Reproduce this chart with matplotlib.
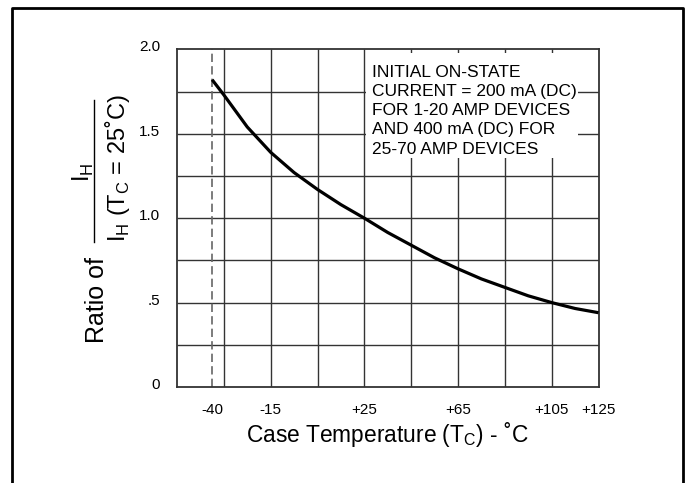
import matplotlib
matplotlib.use('Agg')
import matplotlib.pyplot as plt
from matplotlib.patches import Rectangle
from matplotlib.lines import Line2D
from matplotlib.transforms import ScaledTranslation

plt.rcParams['font.family'] = ['Liberation Sans', 'DejaVu Sans']

#-------------------------------------------------------------------------------
# data
temp  = [-40, -35, -25, -15, -5, 5, 15, 25, 35, 45, 55, 65, 75, 85, 95, 105, 115, 125]
ratio = [1.82, 1.73, 1.54, 1.39, 1.27, 1.17, 1.08, 1.00, 0.915, 0.84, 0.765, 0.70,
         0.64, 0.59, 0.54, 0.50, 0.465, 0.44]

x_ticks  = [-40, -15, 25, 65, 105, 125]
x_labels = ['-40', '-15', '+25', '+65', '+105', '+125']
y_ticks  = [0, 0.5, 1.0, 1.5, 2.0]
y_labels = ['0', '.5', '1.0', '1.5', '2.0']

x_grid = [-35, -15, 5, 25, 45, 65, 85, 105]
y_grid = [0.25, 0.5, 0.75, 1.0, 1.25, 1.5, 1.75]

note = ('INITIAL ON-STATE\nCURRENT = 200 mA (DC)\nFOR 1-20 AMP DEVICES\n'
        'AND 400 mA (DC) FOR\n25-70 AMP DEVICES')
#-------------------------------------------------------------------------------

W, H = 688, 483
fig = plt.figure(figsize=(W / 100, H / 100), dpi=100)

def fx(px): return px / W
def fy(py): return 1 - py / H

ax = fig.add_axes([fx(177), fy(387), fx(598.5) - fx(177), fy(49.3) - fy(387)])
ax.set_xlim(-55, 125)
ax.set_ylim(0, 2.0)

# grid
ax.vlines(x_grid, 0, 2.0, color='#333333', lw=1.0, zorder=1)
ax.hlines(y_grid, -55, 125, color='#333333', lw=1.0, zorder=1)

# -40 marker line
ax.axvline(-40, color='#666666', lw=1.2, dashes=(5, 2.5), zorder=1.5)

# curve
ax.plot(temp, ratio, color='black', lw=2.3, solid_capstyle='butt', zorder=4)

# white box behind note
ax.add_patch(Rectangle((0.449, 0.678), 0.502, 0.311, transform=ax.transAxes,
                       facecolor='white', edgecolor='none', zorder=2))
ax.text(0.462, 0.954, note, transform=ax.transAxes, ha='left', va='top',
        fontsize=12.5, linespacing=1.35, zorder=3)

for s in ax.spines.values():
    s.set_color('#333333')
    s.set_linewidth(1.3)

ax.set_xticks(x_ticks, x_labels)
ax.set_yticks(y_ticks, y_labels)
ax.tick_params(axis='x', length=0, pad=11.5, labelsize=11)
ax.tick_params(axis='y', length=0, pad=12, labelsize=11)
for lab in ax.get_yticklabels():
    lab.set_transform(lab.get_transform() + ScaledTranslation(0, 0.035, fig.dpi_scale_trans))

# axis titles
fig.text(fx(387), fy(442), r'Case Temperature (T$_\mathregular{C}$) - ˚C',
         ha='center', va='baseline', fontsize=16.4)
fig.text(fx(96.5), fy(300), 'Ratio of', rotation=90, ha='center', va='center', fontsize=18)
fig.text(fx(83), fy(172), r'I$_\mathregular{H}$', rotation=90, ha='center', va='center', fontsize=17)
fig.text(fx(117), fy(168), r'I$_\mathregular{H}$ (T$_\mathregular{C}$ = 25˚C)',
         rotation=90, ha='center', va='center', fontsize=17)
fig.add_artist(Line2D([fx(94.3), fx(94.3)], [fy(100), fy(241.7)],
                      color='black', lw=1.0, transform=fig.transFigure))

# outer frame
fig.add_artist(Line2D([fx(12), fx(12), fx(683), fx(683)], [fy(500), fy(8), fy(8), fy(500)],
                      color='black', lw=2.0, transform=fig.transFigure))

fig.savefig('out.png', dpi=100)
